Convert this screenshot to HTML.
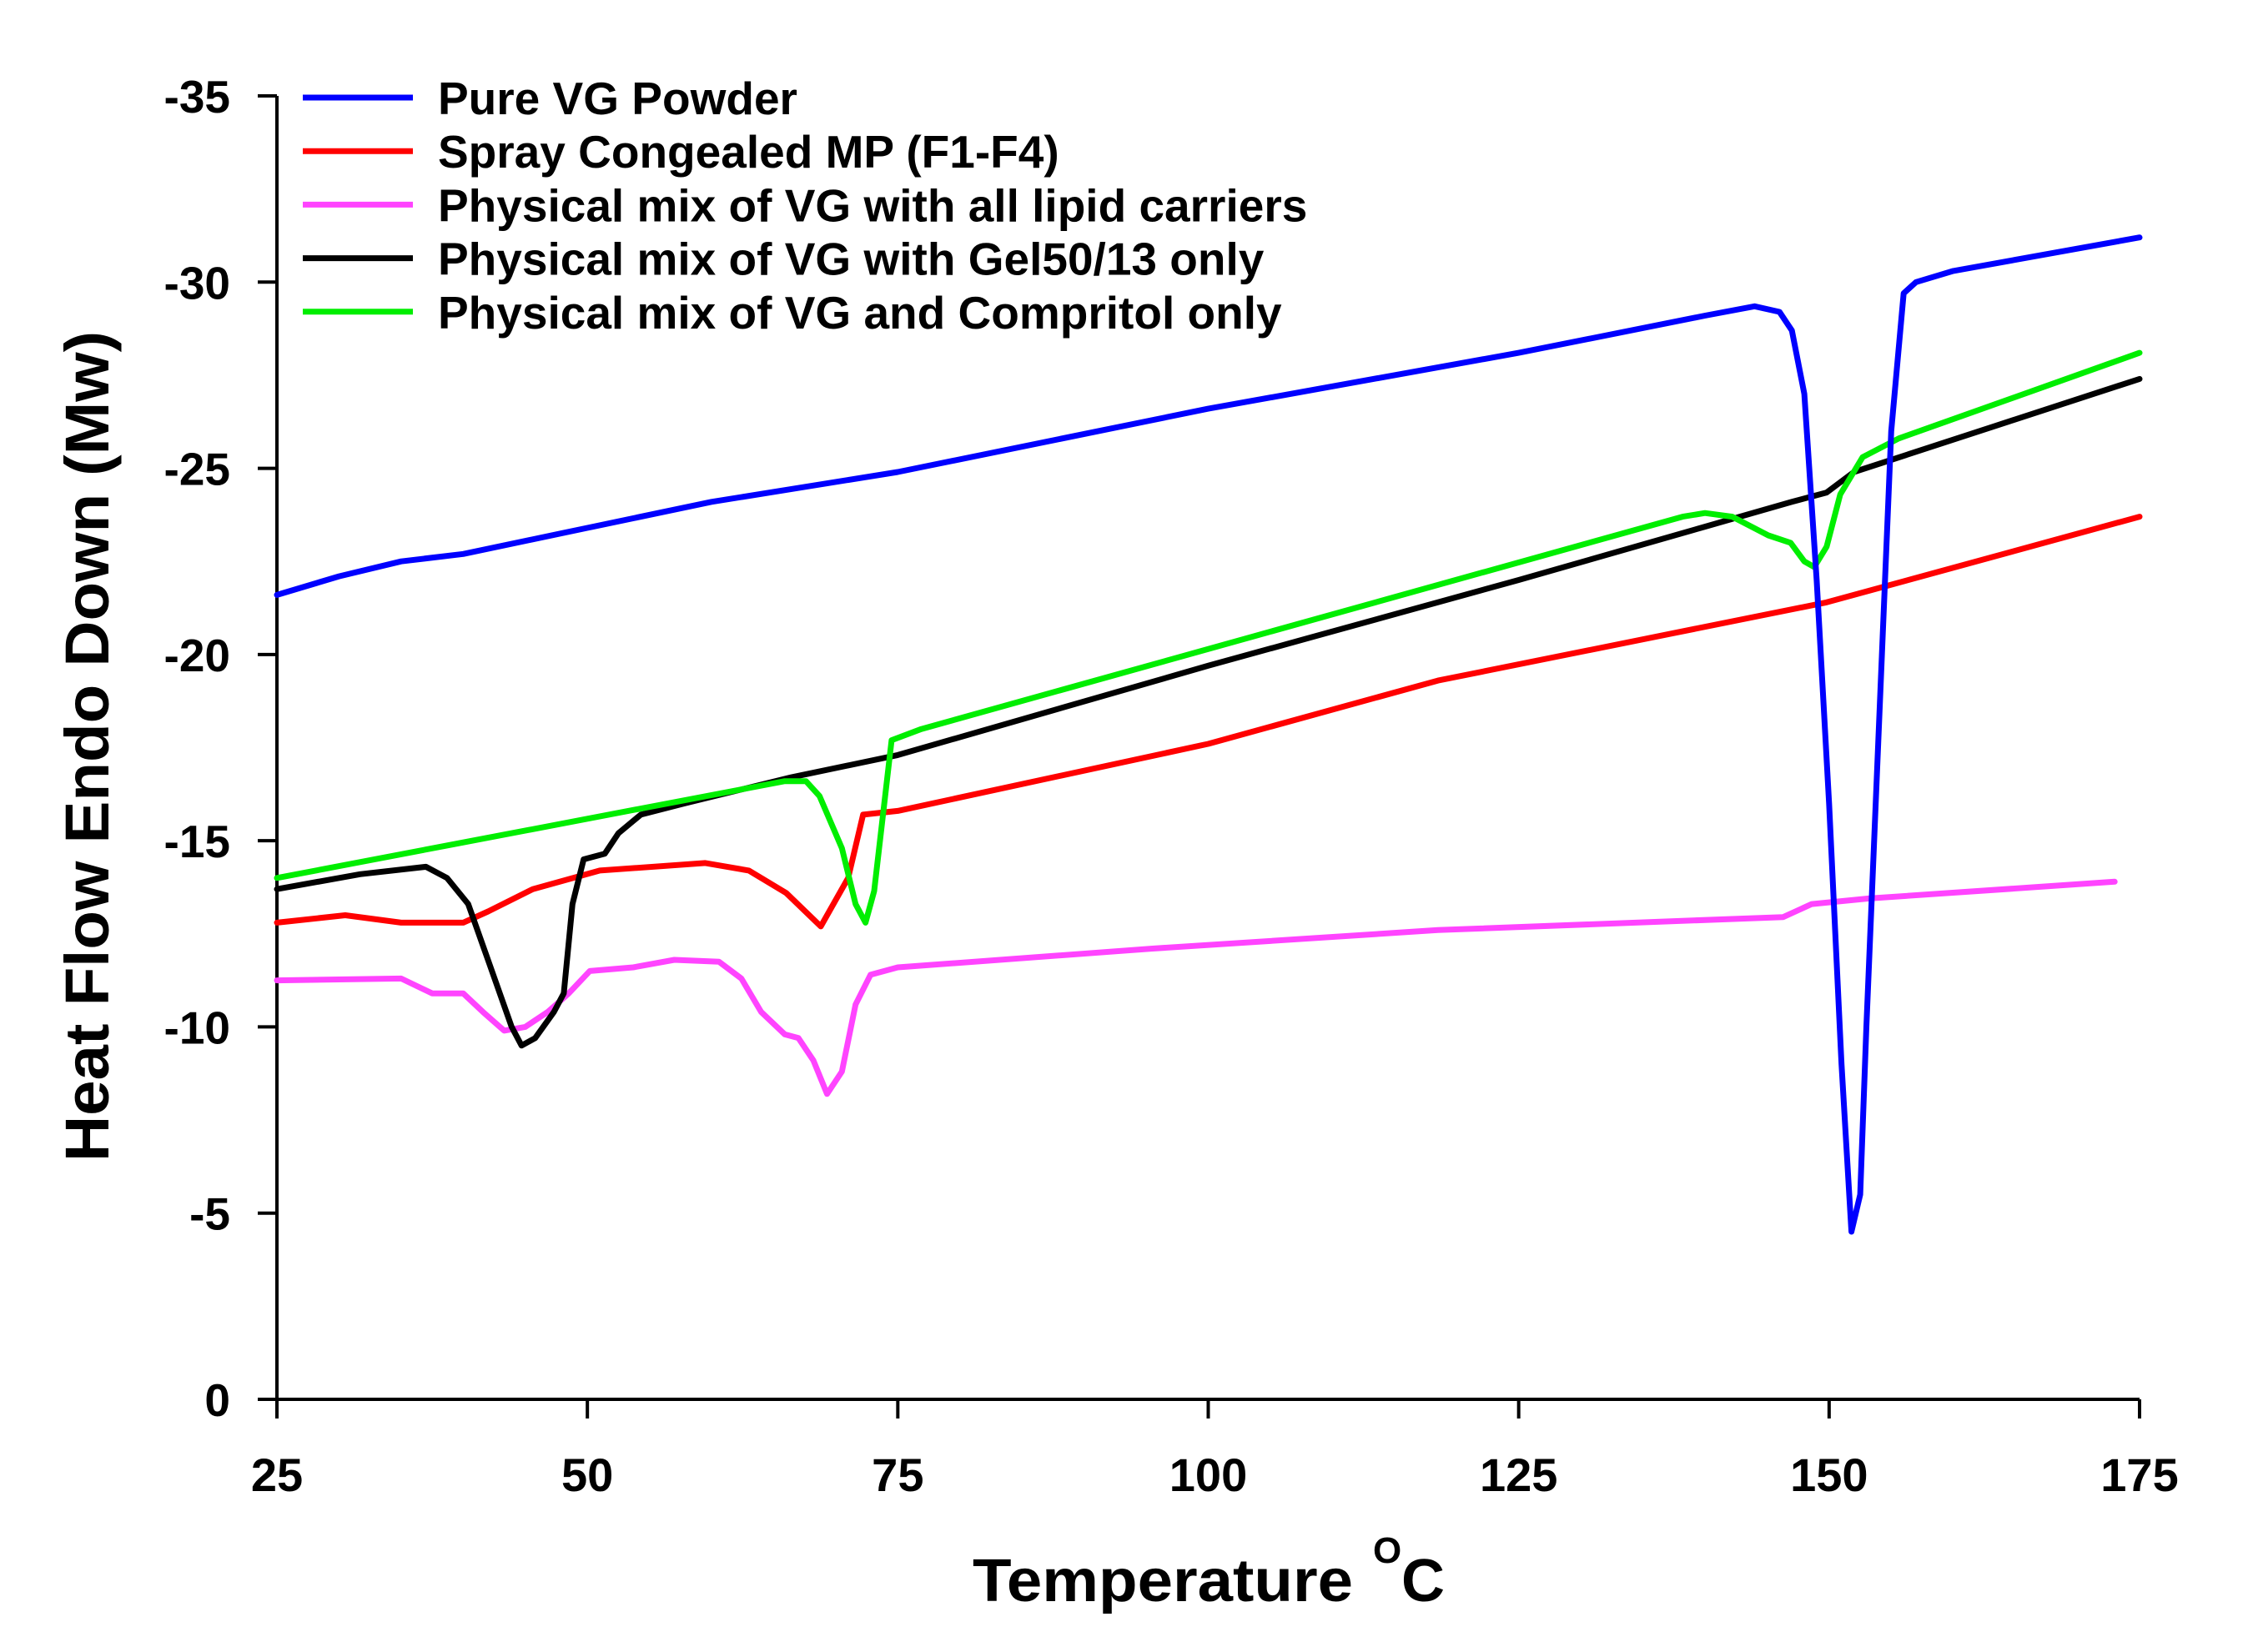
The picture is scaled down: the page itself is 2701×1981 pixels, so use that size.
<!DOCTYPE html>
<html><head><meta charset="utf-8">
<style>
html,body{margin:0;padding:0;background:#fff;}
svg{display:block;font-family:"Liberation Sans",Arial,sans-serif;font-weight:bold;}
</style></head>
<body>
<svg id="chart" width="2701" height="1981" viewBox="0 0 2701 1981" xmlns="http://www.w3.org/2000/svg">
<rect width="2701" height="1981" fill="#fff"/>
<g id="axes"></g>
<g id="series"></g>
<g id="legend"></g>
<text x="1166" y="1920" font-size="72" textLength="456" lengthAdjust="spacingAndGlyphs">Temperature</text>
<text x="1646" y="1874" font-size="44">O</text>
<text x="1680" y="1920" font-size="72">C</text>
<text transform="translate(130,895) rotate(-90)" text-anchor="middle" font-size="74" textLength="996" lengthAdjust="spacingAndGlyphs">Heat Flow Endo Down (Mw)</text>
</svg>
<script>
const xTicks = [25, 50, 75, 100, 125, 150, 175];
const yTicks = [0, -5, -10, -15, -20, -25, -30, -35];
const seriesNames = ["Pure VG Powder", "Spray Congealed MP (F1-F4)", "Physical mix of VG with all lipid carriers", "Physical mix of VG with Gel50/13 only", "Physical mix of VG and Compritol only"];
const seriesColors = ["#0000ff", "#ff0000", "#ff44ff", "#000000", "#00ee00"];
const blueX = [25,30,35,40,50,60,75,100,125,140,144,146,147,148,149,150,151,151.8,152.5,153,154,155,156,157,160,175];
const blueY = [-21.6,-22.1,-22.5,-22.7,-23.4,-24.1,-24.9,-26.6,-28.1,-29.1,-29.35,-29.2,-28.7,-27,-22,-16,-9,-4.5,-5.5,-10,-18,-26,-29.7,-30,-30.3,-31.2];
const redX = [25,30.5,35,40,42,45.6,51,59.5,63,66,68.8,71,72.2,75,100,118.5,149.8,175];
const redY = [-12.8,-13.0,-12.8,-12.8,-13.1,-13.7,-14.2,-14.4,-14.2,-13.6,-12.7,-14.0,-15.7,-15.8,-17.6,-19.3,-21.4,-23.7];
const pinkX = [25,35,37.5,40,41.6,43.3,45,46.8,48.5,50.2,53.7,57,60.6,62.4,64,65.9,67,68.2,69.3,70.5,71.6,72.8,75,95.4,118.5,146.3,148.6,153.2,173];
const pinkY = [-11.25,-11.3,-10.9,-10.9,-10.4,-9.9,-10.0,-10.4,-10.9,-11.5,-11.6,-11.8,-11.75,-11.3,-10.4,-9.8,-9.7,-9.1,-8.2,-8.8,-10.6,-11.4,-11.6,-12.1,-12.6,-12.95,-13.3,-13.45,-13.9];
const blackX = [25,31.7,37,38.7,40.4,42.1,43.9,44.7,45.8,47.3,48.1,48.8,49.7,51.4,52.5,54.3,57.8,66.4,75,100,125,147,149.8,152,175];
const blackY = [-13.7,-14.1,-14.3,-14.0,-13.3,-11.7,-10.0,-9.5,-9.7,-10.4,-10.9,-13.3,-14.5,-14.65,-15.2,-15.7,-16.0,-16.7,-17.3,-19.7,-22.0,-24.1,-24.35,-24.9,-27.4];
const greenX = [25,65.9,67.6,68.7,70.5,71.6,72.4,73.1,74.5,76.9,138.2,140,142.2,145.1,146.9,148,148.8,149.8,150.9,152.7,155.6,175];
const greenY = [-14.0,-16.6,-16.6,-16.2,-14.8,-13.3,-12.8,-13.65,-17.7,-18.0,-23.7,-23.8,-23.7,-23.2,-23.0,-22.5,-22.35,-22.9,-24.3,-25.3,-25.8,-28.1];

const X0 = 332, X1 = 2565, Y0 = 1678, Y1 = 115;
function sx(t){ return X0 + (t - 25) / 150 * (X1 - X0); }
function sy(v){ return Y0 + (v / -35) * (Y1 - Y0); }
const NS = "http://www.w3.org/2000/svg";
function mk(tag, attrs, parent){ const e = document.createElementNS(NS, tag); for (const k in attrs) e.setAttribute(k, attrs[k]); parent.appendChild(e); return e; }

const axes = document.getElementById('axes');
const yAxis = mk('line', {x1:X0, y1:Y1, x2:X0, y2:Y0+23, stroke:'#000','stroke-width':4}, axes);


const xAxis = mk('line', {x1:X0-23, y1:Y0, x2:X1, y2:Y0, stroke:'#000','stroke-width':4}, axes);


xTicks.forEach(t => {
  const tk = mk('line', {x1:sx(t), y1:Y0, x2:sx(t), y2:Y0+23, stroke:'#000','stroke-width':4}, axes);
  
  
  const lb = mk('text', {x:sx(t), y:1788, 'text-anchor':'middle', 'font-size':56}, axes);
  lb.textContent = t;
  
  
});
yTicks.forEach(v => {
  const tk = mk('line', {x1:X0-23, y1:sy(v), x2:X0, y2:sy(v), stroke:'#000','stroke-width':4}, axes);
  
  
  const lb = mk('text', {x:276, y:sy(v)+20, 'text-anchor':'end', 'font-size':55}, axes);
  lb.textContent = v;
  
  
});

const sg = document.getElementById('series');
const allX = [blueX, redX, pinkX, blackX, greenX];
const allY = [blueY, redY, pinkY, blackY, greenY];
const seriesIds = ['series-pure-vg', 'series-spray-congealed', 'series-all-lipids', 'series-gel50', 'series-compritol'];
[2,1,3,4,0].forEach(i => {
  const pts = allX[i].map((t, j) => sx(t).toFixed(1) + ',' + sy(allY[i][j]).toFixed(1)).join(' ');
  const pl = mk('polyline', {points:pts, fill:'none', stroke:seriesColors[i], 'stroke-width':7, 'stroke-linejoin':'round', 'stroke-linecap':'round'}, sg);
  
  
});

const lg = document.getElementById('legend');
seriesNames.forEach((n, i) => {
  const y = 117 + i * 64.2;
  const ln = mk('line', {x1:363, y1:y, x2:495, y2:y, stroke:seriesColors[i], 'stroke-width':7}, lg);
  
  
  const tx = mk('text', {x:525, y:y+20, 'font-size':55}, lg);
  tx.textContent = n;
  
  
});
</script>
</body></html>
